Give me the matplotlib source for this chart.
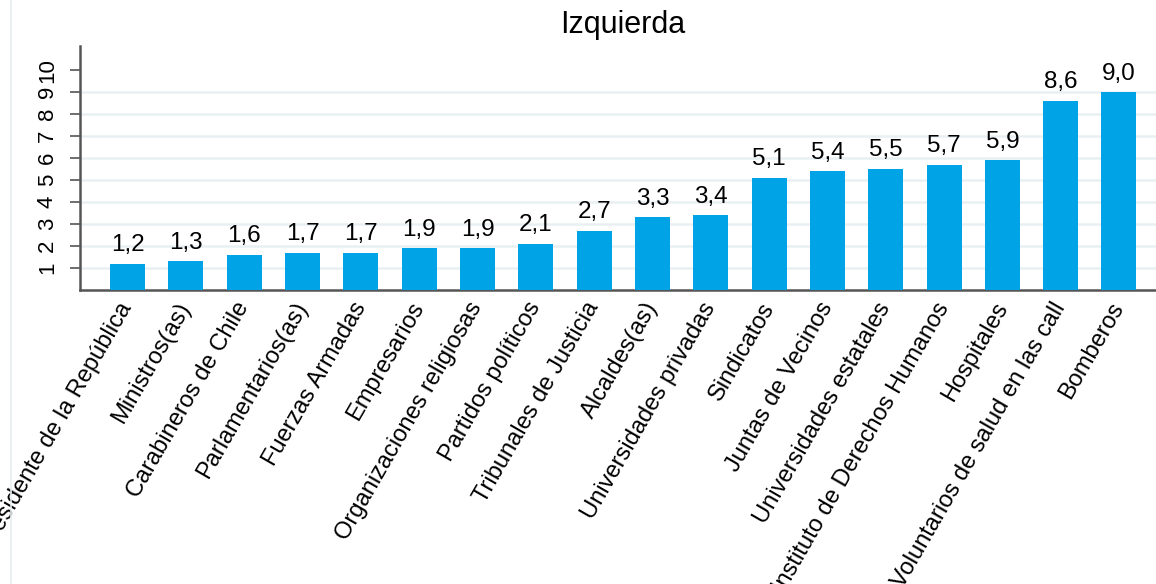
import matplotlib
matplotlib.use("Agg")
import matplotlib.pyplot as plt
from matplotlib.lines import Line2D

plt.rcParams["font.family"] = ["Liberation Sans", "DejaVu Sans"]

TITLE = "Izquierda"
CATEGORIAS = [
    "Presidente de la República", "Ministros(as)", "Carabineros de Chile",
    "Parlamentarios(as)", "Fuerzas Armadas", "Empresarios",
    "Organizaciones religiosas", "Partidos políticos", "Tribunales de Justicia",
    "Alcaldes(as)", "Universidades privadas", "Sindicatos", "Juntas de Vecinos",
    "Universidades estatales", "Instituto de Derechos Humanos", "Hospitales",
    "Voluntarios de salud en las call", "Bomberos",
]
VALORES = [1.2, 1.3, 1.6, 1.7, 1.7, 1.9, 1.9, 2.1, 2.7, 3.3, 3.4,
           5.1, 5.4, 5.5, 5.7, 5.9, 8.6, 9.0]
Y_TICKS = [1, 2, 3, 4, 5, 6, 7, 8, 9, 10]

BAR_COLOR = "#00a3e6"
AXIS_COLOR = "#555555"
GRID_COLOR = "#e9f0f3"

fig = plt.figure(figsize=(11.56, 5.84), dpi=100)
ax = fig.add_axes([80 / 1156, 1 - 290 / 584, 1 - 80 / 1156, (290 - 46) / 584])

x = list(range(len(CATEGORIAS)))
bars = ax.bar(x, VALORES, width=0.6, color=BAR_COLOR, zorder=3)

# etiquetas de valor con coma decimal
for rect, v in zip(bars, VALORES):
    ax.annotate(f"{v:.1f}".replace(".", ","),
                (rect.get_x() + rect.get_width() / 2, rect.get_height()),
                xytext=(0, 5.5), textcoords="offset points",
                ha="center", va="bottom", fontsize=17.5, color="black")

ax.set_xlim(-0.815, 17.635)
ax.set_ylim(0, 11.1)
ax.set_yticks(Y_TICKS)
ax.set_yticklabels([str(t) for t in Y_TICKS], rotation=90, va="center",
                   fontsize=16)
ax.set_xticks(x)
ax.set_xticklabels(CATEGORIAS, rotation=60, ha="right", va="center",
                   rotation_mode="anchor", fontsize=17)
ax.tick_params(axis="x", length=0, pad=10)
ax.tick_params(axis="y", length=7, width=1.2, color=AXIS_COLOR, pad=9)

ax.grid(True, axis="y", color=GRID_COLOR, linewidth=1.8, zorder=0)
ax.yaxis.get_gridlines()[-1].set_visible(False)

for side in ["top", "right"]:
    ax.spines[side].set_visible(False)
for side in ["left", "bottom"]:
    ax.spines[side].set_color(AXIS_COLOR)
    ax.spines[side].set_linewidth(1.8)

fig.text(623 / 1156, 1 - 25 / 584, TITLE, ha="center", va="center",
         fontsize=22, color="black")

# linea tenue a la izquierda del lienzo
fig.add_artist(Line2D([11 / 1156, 11 / 1156], [0, 1], color="#e6edf0",
                      linewidth=1.2, transform=fig.transFigure))

fig.savefig("out.png", dpi=100)
